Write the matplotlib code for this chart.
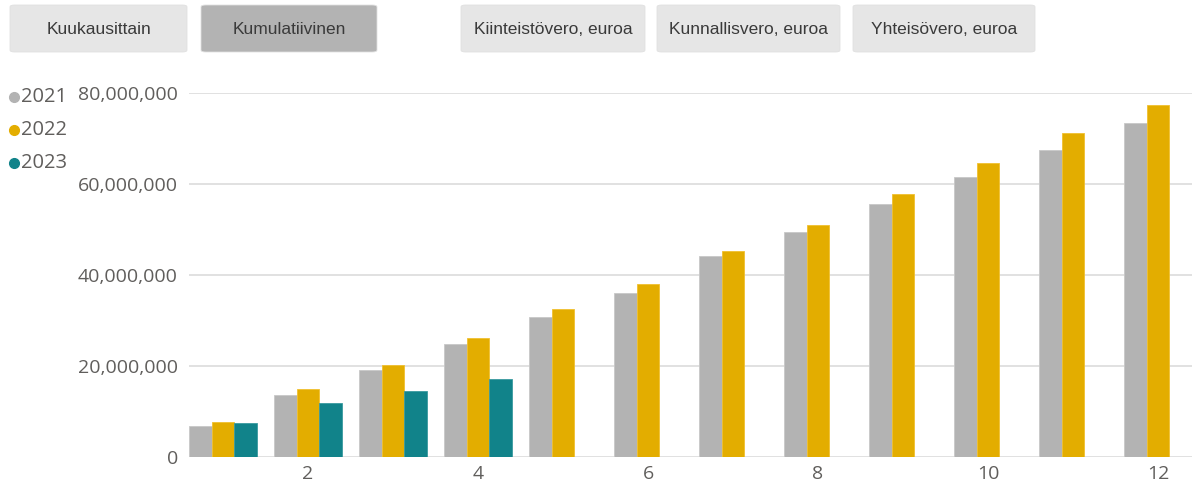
import matplotlib.pyplot as plt
import numpy as np
from matplotlib.patches import FancyBboxPatch
from matplotlib.lines import Line2D
from matplotlib.ticker import FuncFormatter

# cumulative tax revenue per month, euros
months = np.arange(1, 13)
y2021 = [6.8e6, 13.6e6, 19.1e6, 24.8e6, 30.7e6, 36.1e6, 44.2e6, 49.5e6, 55.6e6, 61.5e6, 67.5e6, 73.4e6]
y2022 = [7.7e6, 14.9e6, 20.3e6, 26.2e6, 32.5e6, 38.0e6, 45.3e6, 51.0e6, 57.8e6, 64.6e6, 71.3e6, 77.4e6]
y2023 = [7.5e6, 11.8e6, 14.4e6, 17.1e6]
years = ['2021', '2022', '2023']
colors = ['#B3B3B3', '#E3AD00', '#11838A']

buttons = ['Kuukausittain', 'Kumulatiivinen', 'Kiinteistövero, euroa', 'Kunnallisvero, euroa', 'Yhteisövero, euroa']
button_x = [(10, 187), (201, 377), (461, 645), (657, 840), (853, 1035)]
selected = 'Kumulatiivinen'

W, H = 1192, 484
fig = plt.figure(figsize=(W / 100, H / 100), dpi=100)
ax = fig.add_axes([189 / W, 27 / H, 1 - 189 / W, (457 - 93) / H])

w = 0.267
ax.bar(months - w, y2021, w, color=colors[0], edgecolor='#C8C8C8', linewidth=0.6, zorder=3)
ax.bar(months, y2022, w, color=colors[1], edgecolor='#F0C030', linewidth=0.6, zorder=3)
ax.bar(months[:len(y2023)] + w, y2023, w, color=colors[2], edgecolor='#3A9AA0', linewidth=0.6, zorder=3)

ax.set_xlim(0.6, 12.4)
ax.set_ylim(0, 80e6)
ax.set_yticks([0, 20e6, 40e6, 60e6, 80e6])
ax.set_xticks([2, 4, 6, 8, 10, 12])
ax.yaxis.set_major_formatter(FuncFormatter(lambda v, p: f'{int(v):,}'))
ax.grid(axis='y', color='#E1E1E1', linewidth=1.4, zorder=0)
for s in ax.spines.values():
    s.set_visible(False)
ax.tick_params(length=0, labelcolor='#605E5C', labelsize=14)
ax.tick_params(axis='y', pad=8)
ax.tick_params(axis='x', pad=6)
for lbl in ax.get_xticklabels() + ax.get_yticklabels():
    lbl.set_family('Open Sans')

# legend on the left
for i, (yr, c) in enumerate(zip(years, colors)):
    yy = 1 - (97 + 33 * i) / H
    fig.add_artist(Line2D([14 / W], [yy], marker='o', markersize=7, color=c,
                          linestyle='none', transform=fig.transFigure))
    fig.text(21 / W, yy, yr, fontsize=14.5, color='#605E5C', family='Open Sans',
             va='center', ha='left')

# slicer buttons
for name, (x0, x1) in zip(buttons, button_x):
    fc = '#B3B3B3' if name == selected else '#E6E6E6'
    box = FancyBboxPatch((x0 / W, 1 - 52 / H), (x1 - x0) / W, 47 / H,
                         boxstyle='round,pad=0,rounding_size=0.004',
                         transform=fig.transFigure, facecolor=fc,
                         edgecolor='#E0E0E0', linewidth=0.6)
    fig.add_artist(box)
    fig.text((x0 + x1) / 2 / W, 1 - 29 / H, name, fontsize=12.5, color='#3A3A3A',
             family='Liberation Sans', ha='center', va='center')

fig.savefig('out.png', dpi=100)
